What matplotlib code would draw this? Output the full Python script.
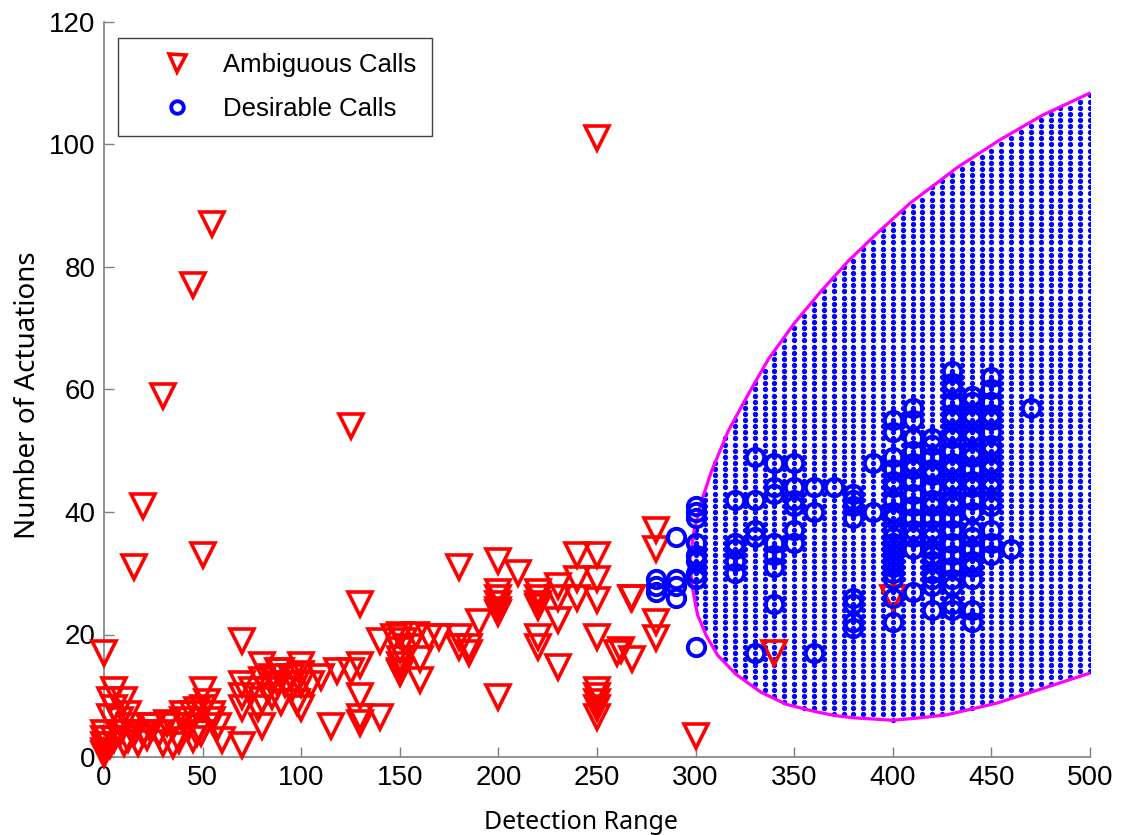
import numpy as np
import matplotlib
matplotlib.use("Agg")
import matplotlib.pyplot as plt

# ---------------- data ----------------
amb_x = [250, 55, 45, 30, 125, 20, 50, 15, 130, 0, 70,
         180, 200, 210, 240, 250, 200, 200, 200, 200, 200, 220, 220, 220, 220,
         230, 230, 240, 240, 250, 250, 267, 230, 220, 220, 250, 260, 230, 200,
         250, 250, 250, 250, 250, 190, 180, 180, 185, 185, 150, 152, 155, 150,
         158, 160, 160, 170, 165,
         280, 280, 268, 280, 280, 268, 262, 300, 340, 400,
         150, 150, 150, 140, 147, 150,
         80, 100, 70, 70, 70, 80, 83, 85, 88, 80, 100, 100, 110, 118, 125, 130,
         130, 130, 140, 130, 115, 90, 98, 90, 95, 95, 88, 80, 92, 85, 75, 78,
         100, 105,
         50, 47, 47, 60, 70, 5, 3, 10, 5, 3, 0, 0, 0, 0, 0, 50, 45, 55, 40, 25,
         10, 17, 22, 30, 38, 13, 23, 32, 43, 49, 40, 55, 35, 8, 5, 15, 28, 45,
         3, 12, 20, 52, 58, 35, 8, 12]
amb_y = [101, 87, 77, 59, 54, 41, 33, 31, 25, 17, 19,
         31, 32, 30, 33, 33, 27, 26, 25, 24, 23.5, 27, 26, 25, 24.5,
         28, 26, 29, 26, 29, 25.6, 26, 22.4, 19.6, 18, 19.6, 17, 14.7, 9.8,
         11, 10, 9, 8, 6.5, 22, 19.6, 18, 18, 17, 20, 19, 18, 17.5,
         20, 16, 12.6, 19.6, 19.6,
         37, 34, 26, 22, 19.4, 16, 17.5, 3.4, 17, 26,
         16, 15, 14, 19, 19.6, 13.7,
         15, 15, 12, 10, 8, 12.5, 11, 10, 12, 9.3, 12, 8, 13, 14, 14, 15,
         10, 6.5, 6.5, 5.5, 5, 9, 9, 14, 13, 11, 14, 5, 12, 13, 11, 8,
         13.5, 12,
         11, 7.7, 4, 2.8, 2, 11, 9.3, 9.3, 8, 6.5, 4, 3, 2, 1, 0.5, 8, 7, 7, 7, 5,
         2.3, 2.3, 3.3, 2.3, 2.8, 5, 5, 5.5, 5, 3.9, 6, 6, 5, 4, 3, 4, 4, 3,
         2, 3, 4, 9, 5, 2, 6, 7]

des_cols = {
    280: [29, 28, 27],
    290: [36, 29, 28, 26],
    300: [41, 40, 39, 35, 33, 32, 30, 29, 18],
    320: [42, 35, 34, 32, 30],
    330: [49, 42, 37, 36, 17],
    340: [48, 44, 43, 35, 33, 31, 25],
    350: [48, 44, 42, 41, 37, 35],
    360: [44, 40, 17],
    370: [44],
    380: [43, 42, 41, 39, 26, 25, 22, 21],
    390: [48, 40],
    400: [55, 53, 49, 47, 45, 44, 42, 40, 39, 37, 36, 35, 34, 33, 32, 31, 30, 29, 26, 22],
    410: [57, 55, 52, 50, 48, 47, 45, 43, 41, 39, 37, 36, 34, 27],
    420: [52, 51, 49, 47, 46, 44, 42, 41, 39, 37, 36, 34, 33, 32, 30, 29, 28, 24],
    430: [63, 61, 60, 58, 56, 55, 53, 52, 50, 48, 47, 45, 44, 42, 41, 39, 37, 35, 33, 31, 29, 28, 25, 24],
    440: [59, 58, 56, 55, 53, 52, 50, 49, 47, 45, 44, 42, 40, 37, 36, 34, 32, 31, 29, 24, 22],
    450: [62, 60, 58, 56, 55, 53, 51, 50, 48, 47, 45, 44, 42, 41, 37, 35, 33],
    460: [34],
    470: [57],
}
des_x = [x for x, ys in des_cols.items() for _ in ys]
des_y = [y for ys in des_cols.values() for y in ys]

# decision boundary (upper and lower branches, x ascending)
upper_x = [297, 299.2, 302.7, 308.1, 316.5, 327, 337, 350, 363.5, 377.5, 392, 408.7, 420.6, 432.5, 454, 476, 500]
upper_y = [32, 36.9, 41.5, 46.7, 53.2, 59.4, 65, 70.8, 76, 81, 85.5, 90.4, 93.3, 96.2, 100.7, 104.8, 108.4]
lower_x = [297, 298.3, 301, 305.4, 311.2, 320.5, 333, 346, 359.5, 370, 380, 400, 414, 427.5, 452.8, 478, 500]
lower_y = [32, 27.8, 23.2, 19.8, 16.6, 13.5, 10.6, 8.6, 7.5, 6.8, 6.4, 6, 6.4, 6.9, 8.8, 11.4, 13.7]

grid_x_step = 5
grid_y_step = 1

x_ticks = [0, 50, 100, 150, 200, 250, 300, 350, 400, 450, 500]
y_ticks = [0, 20, 40, 60, 80, 100, 120]

# ---------------- figure ----------------
tick_font = ['Liberation Sans', 'DejaVu Sans']
label_font = ['Noto Sans', 'DejaVu Sans']

fig = plt.figure(figsize=(11.23, 8.35), dpi=100)
ax = fig.add_axes([104 / 1123, 1 - 757 / 835, (1090 - 104) / 1123, (757 - 22) / 835])

# grid of classified-region dots
gx = np.arange(300, 500 + grid_x_step, grid_x_step)
gy = np.arange(0, 120, grid_y_step)
GX, GY = np.meshgrid(gx, gy)
up = np.interp(GX, upper_x, upper_y)
lo = np.interp(GX, lower_x, lower_y)
inside = (GY <= up) & (GY >= lo)
ax.plot(GX[inside], GY[inside], 'o', ms=3.8, color=(0, 0, 1), mec='none', zorder=2)

# boundary curve
bx = list(reversed(upper_x)) + lower_x[1:]
by = list(reversed(upper_y)) + lower_y[1:]
ax.plot(bx, by, '-', color=(1, 0, 1), lw=2.3, zorder=3)

ax.plot(amb_x, amb_y, 'v', ms=17, mfc='none', mec=(1, 0, 0), mew=2.6,
        label='Ambiguous Calls', clip_on=False, zorder=4)
ax.plot(des_x, des_y, 'o', ms=12.5, mfc='none', mec=(0, 0, 1), mew=2.8,
        label='Desirable Calls', clip_on=False, zorder=5)

ax.set_xlim(0, 500)
ax.set_ylim(0, 120)
ax.set_xticks(x_ticks)
ax.set_yticks(y_ticks)
for s in ['top', 'right']:
    ax.spines[s].set_visible(False)
for s in ['left', 'bottom']:
    ax.spines[s].set_color('#7f7f7f')
    ax.spines[s].set_linewidth(1.2)
ax.tick_params(direction='in', length=7, width=1, color='#7f7f7f', labelsize=20, pad=6)
for lab in ax.get_xticklabels() + ax.get_yticklabels():
    lab.set_family(tick_font)

ax.set_xlabel('Detection Range', fontsize=18, family=label_font)
ax.xaxis.set_label_coords(0.484, -0.0897)
ax.xaxis.label.set_va('center')
ax.set_ylabel('Number of Actuations', fontsize=20, family=label_font)
ax.yaxis.set_label_coords(-0.077, 0.4925)
ax.yaxis.label.set_va('center')

leg = ax.legend(loc='upper left', bbox_to_anchor=(14 / 986, 1 - 16 / 735),
                prop={'family': tick_font, 'size': 18.5}, markerscale=0.72,
                fancybox=False, framealpha=1, edgecolor='#404040',
                handletextpad=0.1, borderpad=0.6, labelspacing=0.75,
                borderaxespad=0, handlelength=3.4)
leg.get_frame().set_linewidth(1.0)

fig.savefig('out.png', dpi=100)
